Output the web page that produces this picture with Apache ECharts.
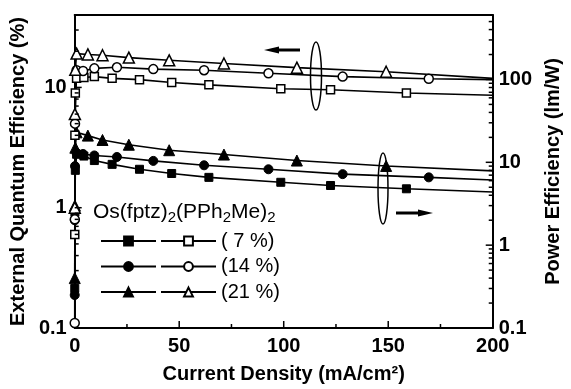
<!DOCTYPE html>
<html><head><meta charset="utf-8">
<script src="https://cdn.jsdelivr.net/npm/echarts@6/dist/echarts.min.js"></script>
<style>html,body{margin:0;padding:0;background:#fff}#c{width:571px;height:389px}</style>
</head><body><div id="c"></div>
<script>
// Current density (mA/cm2) sample points per device
const j7  = [0.03, 0.1, 0.3, 0.9, 4.4, 9.4, 17.9, 31, 46.4, 64.2, 98.6, 122.4, 158.7, 200];
const j14 = [0.01, 0.05, 0.15, 0.9, 4.0, 9.4, 20.2, 37.6, 61.9, 92.7, 128.2, 169.4, 200];
const j21 = [0.03, 0.1, 0.3, 0.9, 6.3, 13.3, 25.9, 45.2, 71.4, 106.3, 149, 200];
// External quantum efficiency (%) - left axis, open symbols
const eqe7  = [0.6, 4, 9, 11.9, 12.1, 12.3, 11.9, 11.6, 11.0, 10.5, 9.75, 9.57, 9.0, 8.6];
const eqe14 = [0.11, 0.8, 5, 13.9, 13.7, 14.4, 14.7, 14.2, 13.9, 13.1, 12.3, 11.8, 11.6];
const eqe21 = [1.0, 6, 14, 19.1, 18.8, 18.5, 17.7, 16.8, 15.8, 14.6, 13.5, 11.9];
// Power efficiency (lm/W) - right axis, filled symbols
const pe7  = [0.3, 2.5, 8, 12.5, 11.9, 10.5, 9.45, 8.24, 7.33, 6.58, 5.74, 5.25, 4.79, 4.38];
const pe14 = [0.25, 2, 9, 13.0, 12.6, 12.1, 11.6, 10.4, 9.2, 8.24, 7.2, 6.58, 6.11];
const pe21 = [0.4, 3, 15, 23.0, 21.0, 18.6, 16.3, 14.0, 12.4, 10.5, 9.04, 7.89];
// Tick values
const xMajor = [50, 100, 150];
const xMinor = [25, 75, 125, 175];
const leftMajor = [1, 10];
const leftMinor = [0.2,0.3,0.4,0.5,0.6,0.7,0.8,0.9,2,3,4,5,6,7,8,9,20,30];
const rightMajor = [1, 10, 100];
const rightMinor = [0.2,0.3,0.4,0.5,0.6,0.7,0.8,0.9,2,3,4,5,6,7,8,9,20,30,40,50,60,70,80,90,200,300,400,500];
const dopingLabels = ['( 7 %)', '(14 %)', '(21 %)'];

const FONT = 'Liberation Sans, Arial, sans-serif';
const chart = echarts.init(document.getElementById('c'), null, {renderer: 'canvas'});

function mk(xs, ys) {
  return xs.map((x, i) => i === xs.length - 1 ? {value: [x, ys[i]], symbol: 'none'} : [x, ys[i]]);
}
function ser(name, xs, ys, symbol, size, filled, yIdx) {
  return {
    name, type: 'line', yAxisIndex: yIdx, data: mk(xs, ys),
    symbol, symbolSize: size, showAllSymbol: true,
    lineStyle: {color: '#000', width: 1.6},
    itemStyle: filled ? {color: '#000', borderColor: '#000', borderWidth: 1}
                      : {color: '#fff', borderColor: '#000', borderWidth: 1.5},
    emphasis: {disabled: true}, z: filled ? 3 : 4
  };
}
// Tick marks as custom series, positioned by the axes' own scales
function tickSeries(vals, yIdx, kind, len) {
  const data = vals.map(v => kind === 'x' ? [v, 0.1] : (kind === 'l' ? [0, v] : [200, v]));
  return {
    type: 'custom', xAxisIndex: 0, yAxisIndex: yIdx, data, clip: false, silent: true, z: 8,
    renderItem: (params, api) => {
      const p = api.coord([api.value(0), api.value(1)]);
      let s;
      if (kind === 'x') s = {x1: p[0], y1: p[1], x2: p[0], y2: p[1] - len};
      else if (kind === 'l') s = {x1: p[0], y1: p[1], x2: p[0] + len, y2: p[1]};
      else s = {x1: p[0], y1: p[1], x2: p[0] - len, y2: p[1]};
      return {type: 'line', shape: s, style: {stroke: '#000', lineWidth: 1.5}};
    }
  };
}

const line = () => ({show: true, onZero: false, lineStyle: {color: '#000', width: 2}});
const yBase = (pos, min, max) => ({
  type: 'log', logBase: 10, min, max, position: pos,
  splitLine: {show: false}, axisLine: line(), axisTick: {show: false}
});
const nameStyle = () => ({fontFamily: FONT, fontWeight: 'bold', fontSize: 20, color: '#000'});

chart.setOption({
  animation: false,
  grid: {left: 73, right: 66, top: 15, bottom: 55},
  xAxis: [{
    type: 'value', min: 0, max: 200, interval: 50, position: 'bottom',
    name: 'Current Density (mA/cm²)', nameLocation: 'middle', nameGap: 36,
    nameTextStyle: nameStyle(),
    axisLine: line(), axisTick: {show: false},
    axisLabel: {fontFamily: FONT, fontWeight: 'bold', fontSize: 20, color: '#000', margin: 8},
    splitLine: {show: false}
  }, {
    type: 'value', min: 0, max: 200, position: 'top',
    axisLine: line(), axisTick: {show: false}, axisLabel: {show: false}, splitLine: {show: false}
  }],
  yAxis: [
    Object.assign(yBase('left', 0.1, 40), {
      name: 'External Quantum Efficiency (%)', nameLocation: 'middle', nameGap: 44,
      nameTextStyle: nameStyle(),
      axisLabel: {fontFamily: FONT, fontWeight: 'bold', fontSize: 20, color: '#000', margin: 8, showMaxLabel: false}
    }),
    Object.assign(yBase('right', 0.1, 600), {
      name: 'Power Efficiency (lm/W)', nameLocation: 'middle', nameGap: 38,
      nameTextStyle: nameStyle(),
      axisLabel: {fontFamily: FONT, fontWeight: 'bold', fontSize: 20, color: '#000', margin: 6, showMaxLabel: false}
    })
  ],
  legend: [
    {
      data: ['PE 7', 'PE 14', 'PE 21'], orient: 'vertical', left: 95, top: 226,
      itemWidth: 55, itemHeight: 11, itemGap: 5.5, selectedMode: false,
      formatter: () => ' ',
      textStyle: {fontFamily: FONT, fontSize: 20, lineHeight: 20, color: '#000'}
    },
    {
      data: ['EQE 7', 'EQE 14', 'EQE 21'], orient: 'vertical', left: 155, top: 226,
      itemWidth: 55, itemHeight: 11, itemGap: 5.5, selectedMode: false,
      formatter: (n) => dopingLabels[['EQE 7', 'EQE 14', 'EQE 21'].indexOf(n)],
      textStyle: {fontFamily: FONT, fontSize: 20, lineHeight: 20, color: '#000'}
    }
  ],
  graphic: [
    {type: 'text', left: 93, top: 200, z: 10,
      style: {text: '{a|Os(fptz)}{s|2}{a|(PPh}{s|2}{a|Me)}{s|2}', fill: '#000',
        rich: {a: {fontFamily: FONT, fontSize: 21, lineHeight: 23, verticalAlign: 'top', fill: '#000'},
               s: {fontFamily: FONT, fontSize: 15, lineHeight: 17, padding: [10, 0, 0, 0], verticalAlign: 'bottom', fill: '#000'}}}},
    {type: 'ellipse', shape: {cx: 316, cy: 76, rx: 5.5, ry: 34}, style: {fill: 'none', stroke: '#000', lineWidth: 1.5}, z: 10},
    {type: 'ellipse', shape: {cx: 383, cy: 188.5, rx: 5, ry: 35.5}, style: {fill: 'none', stroke: '#000', lineWidth: 1.5}, z: 10},
    {type: 'line', shape: {x1: 276, y1: 50, x2: 300, y2: 50}, style: {stroke: '#000', lineWidth: 3}, z: 10},
    {type: 'polygon', shape: {points: [[264, 50], [279, 46.5], [279, 53.5]]}, style: {fill: '#000'}, z: 10},
    {type: 'line', shape: {x1: 396, y1: 213, x2: 421, y2: 213}, style: {stroke: '#000', lineWidth: 3}, z: 10},
    {type: 'polygon', shape: {points: [[433, 213], [418, 209.5], [418, 216.5]]}, style: {fill: '#000'}, z: 10}
  ],
  series: [
    ser('EQE 7', j7, eqe7, 'rect', 8, false, 0),
    ser('EQE 14', j14, eqe14, 'circle', 9, false, 0),
    ser('EQE 21', j21, eqe21, 'triangle', 11, false, 0),
    ser('PE 7', j7, pe7, 'rect', 8, true, 1),
    ser('PE 14', j14, pe14, 'circle', 9, true, 1),
    ser('PE 21', j21, pe21, 'triangle', 11, true, 1),
    tickSeries(xMajor, 0, 'x', 7),
    tickSeries(xMinor, 0, 'x', 4),
    tickSeries(leftMajor, 0, 'l', 7),
    tickSeries(leftMinor, 0, 'l', 4),
    tickSeries(rightMajor, 1, 'r', 7),
    tickSeries(rightMinor, 1, 'r', 4)
  ]
});
</script></body></html>
